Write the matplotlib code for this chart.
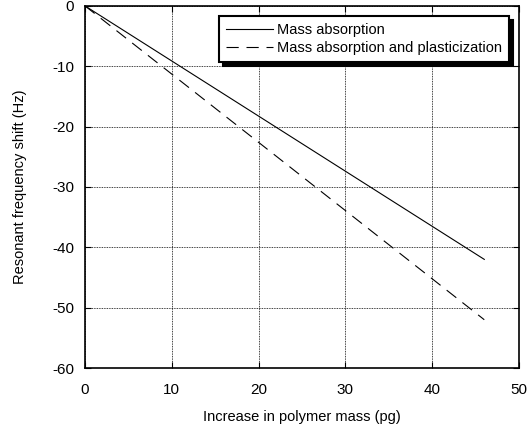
import numpy as np
import matplotlib.pyplot as plt

plt.rcParams['font.family'] = ['Liberation Sans', 'DejaVu Sans']
plt.rcParams['axes.unicode_minus'] = False

# data
mass = [0, 46]
shift_abs = [0, -42]
shift_plast = [0, -52]

fig = plt.figure(figsize=(5.29, 4.25), dpi=100)
ax = fig.add_axes([0.1607, 0.1341, 0.8204, 0.852])

ax.plot(mass, shift_abs, color='black', lw=0.8, label='Mass absorption')
ax.plot(mass, shift_plast, color='black', lw=0.8, dashes=(11, 7),
        label='Mass absorption and plasticization')

ax.set_xlim(0, 50)
ax.set_ylim(-60, 0)
ax.set_xticks(np.arange(0, 51, 10))
ax.set_yticks(np.arange(-60, 1, 10))
ax.grid(True, linestyle=(0, (1, 1)), color='black', lw=0.6)
ax.tick_params(direction='in', top=True, right=True, labelsize=11, length=4)
ax.tick_params(axis='x', pad=11)
ax.tick_params(axis='y', pad=8)
for s in ax.spines.values():
    s.set_linewidth(1.2)

ax.set_xlabel('Increase in polymer mass (pg)', fontsize=10.5, labelpad=9)
ax.set_ylabel('Resonant frequency shift (Hz)', fontsize=10.5, labelpad=18)

leg = ax.legend(loc='upper right', bbox_to_anchor=(0.977, 0.972), borderaxespad=0,
                fontsize=10.5, fancybox=False,
                shadow={'ox': 3, 'oy': -3, 'color': 'black', 'alpha': 1},
                framealpha=1, edgecolor='black', handlelength=3.2,
                borderpad=0.5, labelspacing=0.25, handletextpad=0.25)
leg.get_frame().set_linewidth(1.5)

fig.savefig('out.png', dpi=100)
